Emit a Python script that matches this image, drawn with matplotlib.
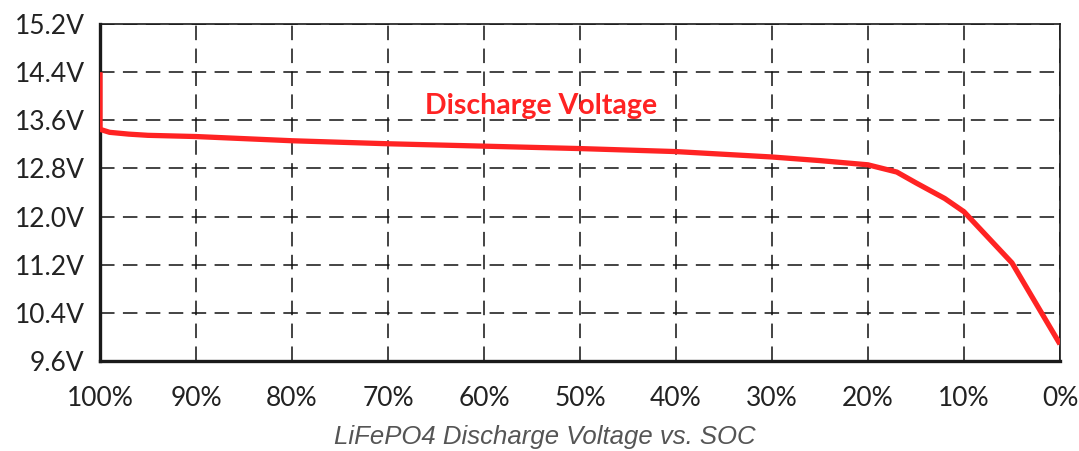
import matplotlib
matplotlib.use("Agg")
import matplotlib.pyplot as plt

soc = [100, 100, 99, 97, 95, 90, 80, 70, 60, 50, 40, 30, 25, 20, 17, 15, 12, 10, 5, 0]
volt = [14.40, 13.45, 13.40, 13.37, 13.35, 13.33, 13.26, 13.21, 13.17, 13.13, 13.08, 12.99, 12.93, 12.86, 12.74, 12.56, 12.30, 12.08, 11.23, 9.88]
x_ticks = [100, 90, 80, 70, 60, 50, 40, 30, 20, 10, 0]
x_labels = ["100%", "90%", "80%", "70%", "60%", "50%", "40%", "30%", "20%", "10%", "0%"]
y_ticks = [9.6, 10.4, 11.2, 12.0, 12.8, 13.6, 14.4, 15.2]
y_labels = ["9.6V", "10.4V", "11.2V", "12.0V", "12.8V", "13.6V", "14.4V", "15.2V"]
series_label = "Discharge Voltage"
caption = "LiFePO4 Discharge Voltage vs. SOC"

fig = plt.figure(figsize=(10.79, 4.51), dpi=100)
ax = fig.add_axes([100/1079, 1 - 361/451, 960/1079, 337/451])

ax.plot(soc, volt, color="#ff2323", lw=3.8, solid_capstyle="butt", zorder=3)

ax.set_xlim(100, 0)
ax.set_ylim(9.6, 15.2)
ax.set_xticks(x_ticks)
ax.set_xticklabels(x_labels)
ax.set_yticks(y_ticks)
ax.set_yticklabels(y_labels)
ax.tick_params(axis="both", length=0, labelsize=19, colors="#222222")
ax.tick_params(axis="x", pad=18)
ax.tick_params(axis="y", pad=11)
for lab in ax.get_xticklabels() + ax.get_yticklabels():
    lab.set_fontfamily("Lato")

ax.grid(True, color="#111111", lw=1.1, linestyle=(0, (9.5, 5.5)), zorder=1)

for side in ["left", "bottom"]:
    ax.spines[side].set_linewidth(2.4)
    ax.spines[side].set_color("#1a1a1a")
for side in ["top", "right"]:
    ax.spines[side].set_linewidth(1.2)
    ax.spines[side].set_color("#1a1a1a")

ax.text(66.1, 13.84, series_label, color="#ff2323", fontsize=20.5, fontweight="bold",
        fontfamily="Lato", ha="left", va="center", zorder=4)

fig.text(545/1079, 1 - 437/451, caption, ha="center", va="center", fontsize=18.5,
         style="italic", color="#555555", fontfamily="Liberation Sans")

fig.savefig("out.png", dpi=100)
